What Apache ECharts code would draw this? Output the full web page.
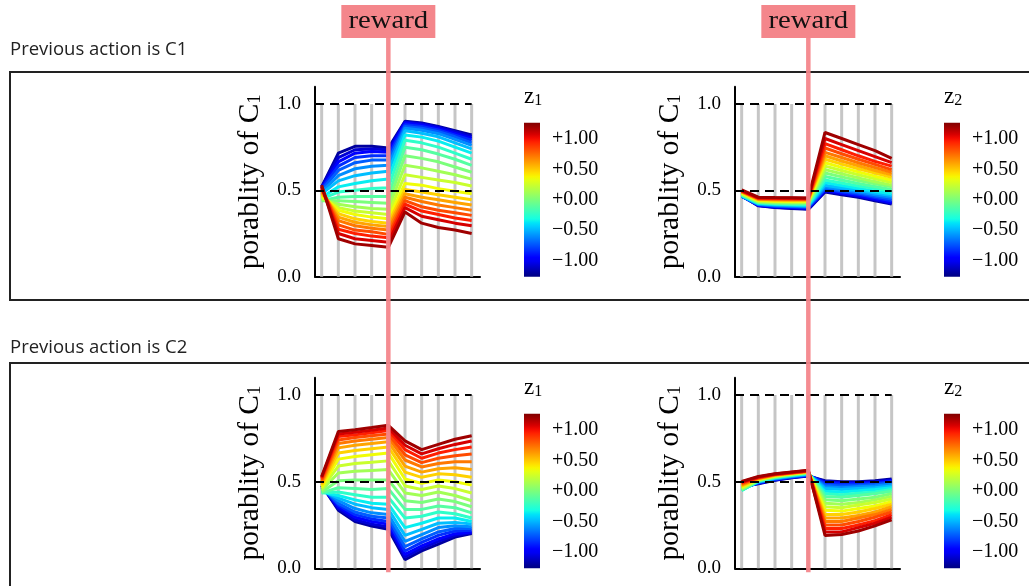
<!DOCTYPE html>
<html>
<head>
<meta charset="utf-8">
<script src="https://cdn.jsdelivr.net/npm/echarts@6/dist/echarts.min.js"></script>
<style>html,body{margin:0;padding:0;background:#fff}#c{width:1029px;height:586px}</style>
</head>
<body>
<div id="c"></div>
<script>
// ---------------- data ----------------
const steps = [0, 1, 2, 3, 4, 5, 6, 7, 8, 9];
const rewardStep = 4;
const zValues = [-1.2, -1.08, -0.96, -0.84, -0.72, -0.6, -0.48, -0.36, -0.24, -0.12, 0, 0.12, 0.24, 0.36, 0.48, 0.6, 0.72, 0.84, 0.96, 1.08, 1.2];
const yTicks = [0, 0.5, 1.0];
const dashLevels = [0.5, 1.0];
const cbTicks = [-1, -0.5, 0, 0.5, 1];
const cbRange = [-1.27, 1.27];
const rowTitles = ['Previous action is C1', 'Previous action is C2'];
const latentNames = ['1', '2'];
const rewardText = 'reward';

// top-left: previous C1, latent z1 (rows: lowest z ... highest z)
const topLeft = [
  [.52,.715,.755,.755,.745,.90,.89,.87,.845,.82],
  [.52,.69,.735,.74,.735,.895,.885,.865,.84,.81],
  [.51,.665,.715,.725,.72,.89,.878,.858,.83,.80],
  [.51,.64,.69,.70,.70,.88,.87,.85,.82,.79],
  [.50,.615,.66,.675,.675,.87,.86,.84,.81,.775],
  [.49,.585,.625,.64,.645,.86,.848,.828,.795,.76],
  [.48,.555,.585,.60,.61,.845,.83,.81,.775,.74],
  [.46,.52,.54,.555,.565,.82,.808,.785,.75,.715],
  [.45,.49,.50,.51,.515,.79,.775,.75,.715,.68],
  [.44,.46,.465,.465,.465,.75,.735,.71,.68,.645],
  [.44,.44,.435,.43,.425,.70,.685,.665,.635,.605],
  [.45,.42,.405,.395,.39,.645,.63,.61,.59,.565],
  [.46,.40,.38,.37,.36,.59,.575,.56,.545,.525],
  [.47,.385,.36,.345,.335,.54,.53,.51,.495,.48],
  [.48,.365,.335,.32,.31,.505,.49,.475,.46,.445],
  [.49,.345,.315,.30,.29,.48,.46,.445,.43,.415],
  [.50,.325,.295,.28,.27,.46,.435,.415,.40,.385],
  [.51,.30,.27,.26,.245,.44,.405,.385,.37,.355],
  [.52,.275,.25,.235,.225,.42,.38,.36,.34,.325],
  [.52,.25,.22,.21,.20,.40,.35,.33,.31,.295],
  [.53,.22,.19,.18,.17,.375,.31,.285,.27,.25]
];
// top-right: previous C1, latent z2
const topRight = [
  [.47,.41,.40,.395,.39,.49,.475,.46,.44,.42],
  [.468,.412,.402,.398,.393,.495,.48,.465,.445,.425],
  [.466,.414,.405,.40,.396,.50,.485,.47,.45,.43],
  [.465,.416,.408,.403,.40,.505,.49,.477,.458,.44],
  [.465,.418,.41,.406,.403,.51,.497,.484,.466,.45],
  [.466,.42,.413,.41,.407,.52,.505,.492,.475,.46],
  [.468,.422,.416,.413,.41,.53,.515,.50,.485,.47],
  [.47,.425,.419,.416,.414,.545,.528,.512,.495,.48],
  [.472,.428,.422,.42,.418,.56,.542,.525,.51,.495],
  [.475,.43,.425,.423,.422,.58,.56,.54,.522,.505],
  [.478,.433,.428,.427,.426,.60,.578,.557,.538,.52],
  [.48,.436,.432,.431,.43,.62,.596,.572,.55,.53],
  [.483,.439,.435,.434,.434,.64,.615,.59,.567,.545],
  [.486,.442,.438,.437,.437,.66,.633,.607,.582,.56],
  [.489,.445,.442,.441,.441,.68,.652,.625,.60,.575],
  [.491,.448,.445,.444,.444,.70,.67,.642,.615,.59],
  [.493,.45,.448,.447,.447,.72,.69,.66,.632,.605],
  [.495,.453,.451,.45,.45,.745,.712,.68,.65,.62],
  [.497,.455,.454,.453,.452,.77,.735,.70,.668,.64],
  [.499,.457,.456,.455,.454,.80,.765,.73,.695,.66],
  [.502,.46,.458,.457,.456,.835,.80,.765,.73,.685]
];
// bottom-left: previous C2, latent z1
const bottomLeft = [
  [.48,.335,.27,.244,.225,.05,.10,.14,.18,.20],
  [.478,.345,.28,.255,.24,.065,.115,.155,.19,.205],
  [.475,.355,.295,.27,.255,.08,.13,.17,.20,.21],
  [.47,.365,.31,.285,.27,.10,.15,.19,.215,.22],
  [.465,.375,.325,.30,.29,.125,.17,.21,.23,.23],
  [.46,.39,.345,.32,.31,.155,.195,.235,.245,.24],
  [.45,.405,.37,.35,.34,.19,.225,.26,.265,.255],
  [.44,.42,.395,.375,.37,.235,.26,.29,.29,.27],
  [.435,.44,.425,.41,.41,.29,.30,.325,.315,.29],
  [.435,.465,.46,.455,.46,.34,.34,.36,.35,.32],
  [.44,.505,.51,.51,.51,.39,.38,.40,.385,.355],
  [.45,.55,.56,.565,.57,.435,.42,.44,.42,.39],
  [.46,.59,.605,.612,.62,.475,.455,.475,.46,.435],
  [.47,.63,.645,.655,.665,.515,.49,.51,.50,.48],
  [.48,.665,.68,.69,.70,.555,.525,.545,.54,.525],
  [.49,.695,.71,.72,.73,.59,.555,.575,.58,.57],
  [.50,.72,.735,.745,.755,.625,.585,.605,.615,.615],
  [.51,.74,.755,.765,.775,.655,.61,.635,.65,.66],
  [.52,.76,.77,.782,.795,.685,.635,.665,.685,.70],
  [.525,.775,.785,.797,.81,.71,.66,.69,.715,.735],
  [.53,.79,.80,.812,.825,.735,.685,.715,.745,.765]
];
// bottom-right: previous C2, latent z2
const bottomRight = [
  [.47,.488,.508,.522,.532,.505,.50,.50,.505,.515],
  [.468,.49,.51,.524,.534,.50,.495,.495,.50,.51],
  [.465,.492,.512,.525,.536,.495,.49,.49,.495,.505],
  [.462,.494,.514,.527,.538,.49,.485,.485,.49,.50],
  [.458,.496,.516,.529,.54,.48,.475,.478,.483,.493],
  [.455,.498,.518,.531,.542,.47,.465,.47,.475,.485],
  [.452,.50,.52,.533,.544,.46,.455,.46,.465,.475],
  [.45,.502,.522,.535,.546,.445,.44,.447,.455,.465],
  [.45,.504,.524,.537,.548,.43,.425,.433,.44,.455],
  [.452,.506,.526,.539,.55,.415,.41,.42,.43,.445],
  [.455,.508,.528,.541,.552,.395,.39,.40,.41,.43],
  [.46,.51,.53,.543,.554,.375,.37,.38,.395,.415],
  [.465,.512,.532,.545,.555,.355,.35,.365,.38,.40],
  [.47,.514,.534,.546,.556,.335,.33,.345,.36,.385],
  [.475,.516,.536,.548,.557,.31,.31,.325,.345,.37],
  [.48,.518,.538,.549,.558,.29,.29,.305,.325,.355],
  [.485,.52,.54,.55,.56,.27,.27,.29,.31,.34],
  [.49,.522,.541,.551,.561,.25,.25,.27,.295,.325],
  [.495,.524,.542,.552,.562,.23,.23,.25,.275,.31],
  [.498,.527,.544,.554,.564,.21,.21,.235,.26,.295],
  [.502,.53,.546,.556,.566,.19,.195,.215,.245,.28]
];
const panels = [topLeft, topRight, bottomLeft, bottomRight];

// ---------------- helpers ----------------
function jet(t) {
  t = Math.max(0, Math.min(1, t));
  function seg(pts) {
    for (let i = 1; i < pts.length; i++) {
      if (t <= pts[i][0]) {
        const a = pts[i - 1], b = pts[i];
        return a[1] + (b[1] - a[1]) * (t - a[0]) / (b[0] - a[0]);
      }
    }
    return pts[pts.length - 1][1];
  }
  const r = seg([[0,0],[0.35,0],[0.66,1],[0.89,1],[1,0.5]]);
  const g = seg([[0,0],[0.125,0],[0.375,1],[0.64,1],[0.91,0],[1,0]]);
  const b = seg([[0,0.5],[0.11,1],[0.34,1],[0.65,0],[1,0]]);
  const h = v => Math.round(v * 255).toString(16).padStart(2, '0');
  return '#' + h(r) + h(g) + h(b);
}
const zToT = z => (z - cbRange[0]) / (cbRange[1] - cbRange[0]);
const jetStops = [];
for (let k = 0; k <= 40; k++) jetStops.push({ offset: k / 40, color: jet(k / 40) });

const SERIF = 'Liberation Serif';
const SANS = 'Open Sans';

// layout (pixels)
const panelLeft = [315, 735, 315, 735];
const panelTop = [86.7, 86.7, 377.7, 377.7];
const panelW = 165;
const panelH = [190, 190, 190.6, 190.6];
const cbLeft = [524, 944, 524, 944];
const cbTopOff = 36;
const cbW = 16;

const grid = [], xAxis = [], yAxis = [], series = [];
panels.forEach((rows, p) => {
  grid.push({ left: panelLeft[p], top: panelTop[p], width: panelW, height: panelH[p] });
  xAxis.push({
    gridIndex: p, type: 'value', min: -0.4, max: 9.5,
    axisLine: { show: true, onZero: false, lineStyle: { color: '#000', width: 2 } },
    axisTick: { show: false }, axisLabel: { show: false }, splitLine: { show: false }
  });
  yAxis.push({
    gridIndex: p, type: 'value', min: 0, max: 1.1,
    axisLine: { show: true, onZero: false, lineStyle: { color: '#000', width: 2 } },
    axisTick: { show: false },
    axisLabel: { customValues: yTicks, formatter: v => v.toFixed(1), fontFamily: SERIF, fontSize: 19, color: '#000', margin: 14 },
    splitLine: { show: false },
    name: 'porablity of C{s|1}', nameLocation: 'middle', nameGap: 50, nameRotate: 90,
    nameTextStyle: { fontFamily: SERIF, fontSize: 29.5, color: '#000',
      rich: { s: { fontFamily: SERIF, fontSize: 19, color: '#000', verticalAlign: 'bottom', padding: [9, 0, 0, 0] } } }
  });
});
// colorbar grids
panels.forEach((rows, p) => {
  const gi = 4 + p;
  grid.push({ left: cbLeft[p], top: panelTop[p] + cbTopOff, width: cbW, height: panelH[p] - cbTopOff });
  xAxis.push({ gridIndex: gi, type: 'value', min: 0, max: 1, show: false });
  yAxis.push({
    gridIndex: gi, type: 'value', min: cbRange[0], max: cbRange[1], position: 'left',
    axisLine: { show: false }, splitLine: { show: false }, axisLabel: { show: false },
    axisTick: { show: true, inside: true, length: 3, customValues: cbTicks, lineStyle: { color: '#fff', width: 1 } },
    name: 'z{s|' + latentNames[p % 2] + '}', nameLocation: 'end', nameGap: 14,
    nameTextStyle: { fontFamily: SERIF, fontSize: 23, color: '#000', align: 'left',
      rich: { s: { fontFamily: SERIF, fontSize: 16, color: '#000', verticalAlign: 'bottom', padding: [4, 0, 0, 0] } } }
  });
  yAxis.push({
    gridIndex: gi, type: 'value', min: cbRange[0], max: cbRange[1], position: 'right',
    axisLine: { show: false }, splitLine: { show: false },
    axisTick: { show: true, inside: true, length: 3, customValues: cbTicks, lineStyle: { color: '#fff', width: 1 } },
    axisLabel: { customValues: cbTicks, margin: 12, fontFamily: SERIF, fontSize: 20, color: '#000',
      formatter: v => (v >= 0 ? '+' : '\u2212') + Math.abs(v).toFixed(2) }
  });
});

panels.forEach((rows, p) => {
  // gray step lines
  series.push({
    type: 'bar', xAxisIndex: p, yAxisIndex: p, barWidth: 3, silent: true, z: 1,
    itemStyle: { color: '#c6c6c6' },
    data: steps.map(s => [s, 1.0])
  });
  // data lines
  rows.forEach((row, i) => {
    series.push({
      type: 'line', xAxisIndex: p, yAxisIndex: p, showSymbol: false, silent: true, z: 3,
      lineStyle: { color: jet(zToT(zValues[i])), width: 3 },
      data: steps.map((s, k) => [s, row[k]])
    });
  });
  // dashed reference lines
  series.push({
    type: 'line', xAxisIndex: p, yAxisIndex: p, data: [], z: 6, silent: true,
    markLine: {
      silent: true, symbol: 'none', label: { show: false },
      lineStyle: { color: '#000', width: 2.2, type: [9, 6] },
      data: dashLevels.map(v => [{ coord: [-0.4, v] }, { coord: [steps[steps.length - 1], v] }])
    }
  });
  // colorbar
  series.push({
    type: 'custom', xAxisIndex: 4 + p, yAxisIndex: 4 + 2 * p, silent: true,
    data: [[0, cbRange[0], cbRange[1]]],
    renderItem: (params, api) => {
      const a = api.coord([0, api.value(1)]);
      const b = api.coord([1, api.value(2)]);
      return { type: 'rect', shape: { x: a[0], y: b[1], width: b[0] - a[0], height: a[1] - b[1] },
        style: { fill: new echarts.graphic.LinearGradient(0, 1, 0, 0, jetStops) } };
    }
  });
});

const chart = echarts.init(document.getElementById('c'), null, { renderer: 'canvas' });
chart.setOption({ animation: false, backgroundColor: '#fff', grid, xAxis, yAxis, series });

// annotations positioned from the scales
const graphic = [];
const boxTop = [72, 363], boxBottom = [300, 620];
const titleY = [50, 348];
rowTitles.forEach((t, r) => {
  graphic.push({ type: 'text', x: 10, y: titleY[r], z: 50,
    style: { text: t, fontFamily: SANS, fontSize: 18.5, fill: '#222', verticalAlign: 'middle' } });
  graphic.push({ type: 'rect', z: 0, shape: { x: 10, y: boxTop[r], width: 1100, height: boxBottom[r] - boxTop[r] },
    style: { fill: 'none', stroke: '#222', lineWidth: 2 } });
});
[0, 1].forEach(col => {
  const top = chart.convertToPixel({ xAxisIndex: col, yAxisIndex: col }, [rewardStep, 0]);
  const bot = chart.convertToPixel({ xAxisIndex: col + 2, yAxisIndex: col + 2 }, [rewardStep, 0]);
  const x = top[0];
  graphic.push({ type: 'line', z: 100, shape: { x1: x, y1: 38, x2: x, y2: bot[1] + 4 },
    style: { stroke: '#f4868b', lineWidth: 4.5, opacity: 0.95 } });
  graphic.push({ type: 'rect', z: 100, shape: { x: x - 47, y: 5, width: 94, height: 33 },
    style: { fill: '#f4868b' } });
  graphic.push({ type: 'text', z: 101, x: x, y: 21, scaleX: 1.15,
    style: { text: rewardText, fontFamily: SERIF, fontSize: 25, fill: '#111', align: 'center', verticalAlign: 'middle' } });
});
chart.setOption({ graphic });
</script>
</body>
</html>
